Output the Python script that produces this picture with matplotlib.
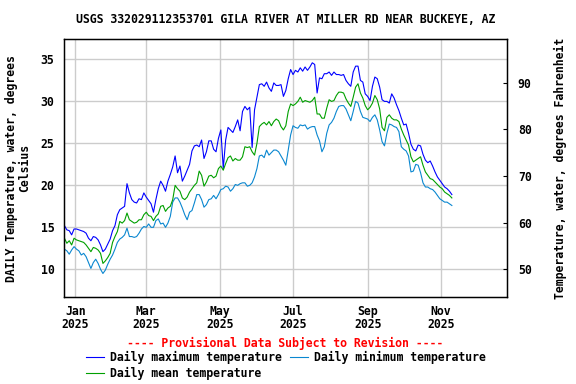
import matplotlib
matplotlib.use('Agg')
import matplotlib.pyplot as plt
import matplotlib.dates as mdates
import pandas as pd

# daily values, every 2nd day starting 2024-12-23 (deg C)
max_c = [
    15.2, 14.7, 14.6, 14.1, 14.8, 14.8, 14.7, 14.6, 14.5, 14.3,
    13.7, 13.4, 13.9, 13.8, 13.5, 12.9, 12.1, 12.4, 13.0, 13.6,
    14.6, 15.2, 16.5, 17.1, 17.3, 17.5, 20.2, 19.1, 18.3, 18.0,
    17.9, 18.4, 18.3, 19.1, 18.6, 18.2, 17.8, 16.8, 18.3, 19.6,
    20.5, 20.0, 19.3, 20.5, 21.3, 22.2, 23.5, 21.5, 22.3, 20.5,
    21.1, 21.8, 22.5, 24.1, 24.7, 24.8, 24.6, 25.4, 23.2, 24.0,
    25.3, 25.3, 24.3, 24.0, 25.6, 26.6, 22.0, 25.4, 26.9, 26.6,
    26.3, 27.0, 27.8, 26.5, 28.8, 29.4, 29.0, 29.3, 24.5, 29.0,
    30.5, 32.0, 32.1, 31.8, 32.3, 31.6, 31.2, 32.2, 31.9, 31.9,
    32.0, 30.6, 31.3, 32.7, 33.8, 33.2, 33.7, 33.5, 34.0, 33.6,
    34.1, 33.7, 34.1, 34.6, 34.4, 31.0, 32.8, 32.7, 33.3, 33.3,
    33.5, 33.1, 33.5, 33.2, 33.2, 33.1, 33.2, 32.5, 32.1, 31.8,
    33.5, 34.2, 34.2, 32.5, 32.3, 30.9, 30.6, 30.1, 31.8, 32.9,
    32.7, 31.7, 30.2, 30.0, 30.0, 29.8, 30.9, 30.4, 29.6, 28.9,
    28.0, 27.2, 27.3, 26.2, 24.9, 24.3, 24.1, 24.8, 24.7, 23.7,
    23.0, 22.7, 22.9, 22.3, 21.6, 21.0, 20.6, 20.2, 19.8, 19.6,
    19.3, 18.9,
]
mean_c = [
    13.7, 13.1, 13.4, 12.9, 13.7, 13.5, 13.4, 13.3, 13.2, 12.9,
    12.5, 12.1, 12.6, 12.5, 12.3, 11.9, 10.7, 11.0, 11.4, 11.9,
    13.2, 13.9, 14.5, 15.7, 15.5, 15.8, 16.7, 15.9, 15.7, 15.5,
    15.6, 15.9, 15.9, 16.5, 16.8, 16.4, 16.3, 15.8, 16.3, 16.6,
    17.5, 17.6, 16.9, 17.3, 17.5, 18.3, 20.0, 19.6, 19.3, 18.5,
    18.3, 18.6, 19.2, 19.6, 20.0, 20.3, 21.7, 21.2, 19.9, 20.4,
    21.1, 21.2, 20.9, 21.1, 22.0, 22.3, 21.8, 22.6, 23.3, 23.5,
    22.9, 23.2, 23.0, 23.0, 23.4, 24.6, 24.5, 24.6, 24.0, 23.6,
    25.0, 27.0, 27.3, 27.5, 27.2, 27.6, 27.1, 27.6, 27.9, 27.7,
    27.0, 26.6, 27.1, 28.8, 29.7, 29.5, 29.7, 30.0, 30.5, 29.9,
    30.1, 30.0, 29.9, 30.1, 30.5, 28.5, 28.5, 28.0, 28.0, 29.2,
    30.2, 30.0, 30.1, 30.7, 31.1, 31.1, 31.0, 30.3, 29.8, 29.4,
    30.5, 31.7, 32.1, 31.0, 30.4, 29.5, 29.0, 29.3, 29.8, 30.7,
    30.2, 29.1, 26.9, 26.5, 28.1, 28.4, 28.0, 27.8, 27.8, 27.6,
    26.7, 26.0, 25.4, 24.8, 23.4, 22.8, 23.0, 23.2, 23.4, 22.4,
    21.6, 21.2, 20.8, 20.7, 20.4, 20.1, 19.8, 19.6, 19.2, 19.0,
    18.8, 18.5,
]
min_c = [
    12.4, 12.2, 11.8, 12.3, 12.7, 12.4, 12.2, 11.7, 11.9, 11.5,
    10.8, 10.1, 10.8, 11.2, 10.7, 10.0, 9.5, 9.9, 10.6, 11.2,
    11.7, 12.4, 13.2, 13.6, 13.8, 14.1, 14.9, 13.9, 13.9, 13.8,
    13.9, 14.3, 14.8, 15.1, 15.0, 15.4, 15.0, 15.0, 15.8, 16.0,
    15.4, 15.5, 15.0, 15.5, 16.3, 18.0, 18.5, 18.5, 18.0, 17.3,
    16.5, 15.9, 16.8, 17.0, 17.9, 18.9, 18.9, 18.3, 17.4, 17.7,
    18.3, 18.4, 18.8, 18.4, 18.9, 19.5, 19.6, 19.9, 19.8, 19.3,
    19.6, 20.1, 20.0, 20.2, 20.3, 20.3, 19.9, 20.0, 20.3, 21.0,
    22.0, 23.5, 23.6, 23.3, 24.2, 23.6, 23.9, 24.2, 24.2, 24.0,
    23.5, 23.0, 22.4, 24.2, 26.0, 27.1, 26.9, 26.8, 27.2, 27.1,
    27.2, 26.7, 26.9, 27.0, 27.0, 26.0, 25.3, 24.0, 24.6, 26.2,
    27.2, 27.5, 28.0, 28.8, 29.4, 29.5, 29.5, 29.1, 28.4, 27.7,
    28.8, 30.0, 29.8, 28.8, 28.1, 28.0, 27.9, 27.6, 28.1, 28.4,
    27.8, 26.6, 25.2, 24.7, 26.2, 27.3, 27.2, 27.0, 26.9, 26.4,
    24.6, 24.3, 24.1, 23.5, 21.6, 21.7, 22.5, 22.4, 21.5, 20.3,
    19.8, 19.8, 19.6, 19.5, 19.2, 18.8, 18.4, 18.2, 18.0, 18.0,
    17.8, 17.6,
]
dates = pd.date_range('2024-12-23', periods=len(max_c), freq='2D')

c_ticks = [10, 15, 20, 25, 30, 35]
f_ticks = [50, 60, 70, 80, 90]

plt.rcParams['font.family'] = 'DejaVu Sans Mono'
plt.rcParams['font.weight'] = 'bold'
plt.rcParams['font.size'] = 8.3

fig = plt.figure(figsize=(5.76, 3.84), dpi=100)
ax = fig.add_axes([0.1116, 0.2266, 0.7681, 0.6711])

l_max, = ax.plot(dates, max_c, color='#0000ff', lw=0.8,
                 label='Daily maximum temperature')
l_min, = ax.plot(dates, min_c, color='#0a87d0', lw=0.8,
                 label='Daily minimum temperature')
l_mean, = ax.plot(dates, mean_c, color='#00a000', lw=0.8,
                  label='Daily mean temperature')

ylo, yhi = 6.7, 37.4
ax.set_xlim(pd.Timestamp('2024-12-22 21:00'), pd.Timestamp('2025-12-25 14:00'))
ax.set_ylim(ylo, yhi)
ax.set_yticks(c_ticks)
ax.xaxis.set_major_locator(mdates.MonthLocator(bymonth=[1, 3, 5, 7, 9, 11]))
ax.xaxis.set_major_formatter(mdates.DateFormatter('%b\n%Y'))
ax.grid(True, color='#cccccc', lw=1.0)
ax.set_axisbelow(True)
ax.tick_params(axis='y', length=0, pad=7)
ax.tick_params(axis='x', length=0, pad=6)
for lab in ax.get_xticklabels():
    lab.set_linespacing(1.0)
for s in ax.spines.values():
    s.set_linewidth(1.0)

# Fahrenheit on the right
ax2 = ax.twinx()
ax2.set_ylim(ylo * 1.8 + 32, yhi * 1.8 + 32)
ax2.set_yticks(f_ticks)
ax2.tick_params(axis='y', direction='in', length=3, pad=8)

fig.text(0.4957, 0.948, 'USGS 332029112353701 GILA RIVER AT MILLER RD NEAR BUCKEYE, AZ',
         ha='center', va='center', fontsize=8.3)
fig.text(18 / 576, 0.562, 'DAILY Temperature, water, degrees\nCelsius',
         rotation=90, ha='center', va='center', linespacing=1.05)
fig.text(560 / 576, 0.562, 'Temperature, water, degrees Fahrenheit',
         rotation=90, ha='center', va='center')
fig.text(0.4945, 0.1068, '---- Provisional Data Subject to Revision ----',
         color='red', ha='center', va='center')

fig.legend(handles=[l_max, l_mean, l_min], loc='upper left',
           bbox_to_anchor=(85.7 / 576, 0.087), ncol=2, frameon=False,
           borderpad=0, borderaxespad=0, handlelength=1.6,
           handletextpad=0.5, columnspacing=0.7, labelspacing=0.25)

fig.savefig('out.png', dpi=100)
